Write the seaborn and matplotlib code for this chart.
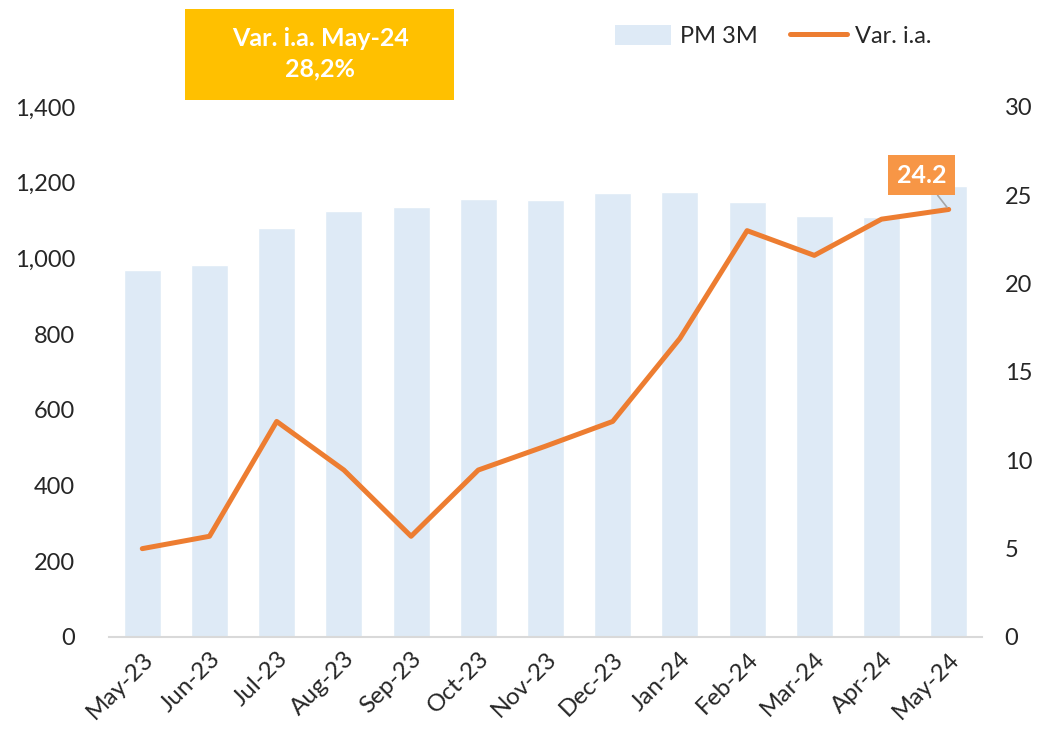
import matplotlib
matplotlib.use("Agg")
import matplotlib.pyplot as plt
import seaborn as sns
import numpy as np
import pandas as pd
from matplotlib.patches import Patch, Rectangle
from matplotlib.lines import Line2D

months = ["May-23", "Jun-23", "Jul-23", "Aug-23", "Sep-23", "Oct-23", "Nov-23",
          "Dec-23", "Jan-24", "Feb-24", "Mar-24", "Apr-24", "May-24"]
pm3m = [969, 982, 1080, 1125, 1136, 1157, 1154, 1173, 1175, 1149, 1112, 1109, 1191]
var_ia = [5.0, 5.7, 12.2, 9.45, 5.7, 9.45, 10.8, 12.2, 16.9, 23.0, 21.6, 23.65, 24.2]
left_ticks = [0, 200, 400, 600, 800, 1000, 1200, 1400]
right_ticks = [0, 5, 10, 15, 20, 25, 30]

sns.set_style("white")
plt.rcParams['font.family'] = ['Lato', 'DejaVu Sans']

bar_color = "#DEEAF6"
line_color = "#ED7D31"

df = pd.DataFrame({"month": months, "pm3m": pm3m, "var": var_ia})

fig = plt.figure(figsize=(10.45, 7.43), dpi=100)
ax = fig.add_axes([0.104, 0.1427, 0.836, 0.7133])
sns.barplot(data=df, x="month", y="pm3m", color=bar_color, width=0.55,
            saturation=1, ax=ax, zorder=1)
ax.set_ylim(0, 1400)
ax.set_yticks(left_ticks)
ax.set_yticklabels([f"{v:,}" for v in left_ticks], fontsize=17)
ax.set_xlim(-0.5, len(months) - 0.5)
ax.set_xlabel("")
ax.set_ylabel("")
ax.tick_params(axis='x', labelsize=17.5, length=0, pad=8)
ax.tick_params(axis='y', length=0, pad=24)
for lbl in ax.get_xticklabels():
    lbl.set_rotation(45)
    lbl.set_ha("right")
    lbl.set_rotation_mode("anchor")
for s in ["top", "right", "left"]:
    ax.spines[s].set_visible(False)
ax.spines["bottom"].set_color("#D9D9D9")
ax.spines["bottom"].set_linewidth(1.5)

ax2 = ax.twinx()
x_pos = np.arange(len(months))
sns.lineplot(x=x_pos, y=var_ia, color=line_color, linewidth=3.6, ax=ax2,
             solid_capstyle="round", solid_joinstyle="round", zorder=3)
ax2.set_ylim(0, 30)
ax2.set_yticks(right_ticks)
ax2.set_yticklabels([str(v) for v in right_ticks], fontsize=17)
ax2.tick_params(axis='y', length=0, pad=16)
ax2.set_ylabel("")
for s in ["top", "right", "left", "bottom"]:
    ax2.spines[s].set_visible(False)
ax2.set_xlim(-0.5, len(months) - 0.5)

# data label for last point
last = len(months) - 1
ax2.annotate(f"{var_ia[-1]:.1f}", xy=(last, var_ia[-1]), xytext=(last - 0.4, 26.15),
             textcoords="data", ha="center", va="center", fontsize=18,
             fontweight="bold", color="white",
             bbox=dict(boxstyle="square,pad=0.35", fc="#F79646", ec="none"),
             arrowprops=dict(arrowstyle="-", color="#A6A6A6", lw=1.2,
                             shrinkA=0, shrinkB=2))

# highlight box
fig.patches.append(Rectangle((185 / 1045, 1 - 100 / 743), (454 - 185) / 1045,
                             (100 - 9) / 743, transform=fig.transFigure,
                             fc="#FFC000", ec="none", zorder=0))
fig.text(0.3065, 0.928, "Var. i.a. May-24\n28,2%", ha="center", va="center",
         fontsize=18, fontweight="bold", color="white", linespacing=1.4)

handles = [Patch(facecolor=bar_color, edgecolor="none", label="PM 3M"),
           Line2D([0], [0], color=line_color, lw=3.6, label="Var. i.a.",
                  solid_capstyle="round")]
fig.legend(handles=handles, loc="center", bbox_to_anchor=(0.74, 0.951), ncol=2,
           frameon=False, fontsize=17, handlelength=2.4, handleheight=0.9,
           columnspacing=1.4, handletextpad=0.35)

fig.savefig("out.png", dpi=100)
